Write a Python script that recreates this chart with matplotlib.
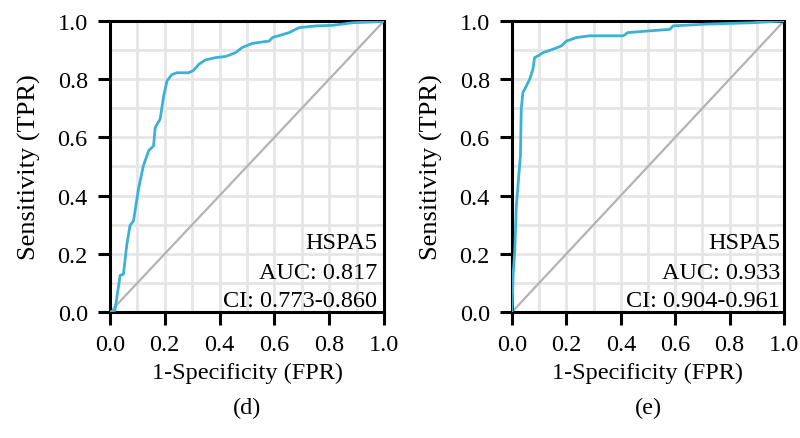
import numpy as np
import matplotlib.pyplot as plt

plt.rcParams['font.family'] = ['Liberation Serif', 'DejaVu Serif']

# ROC curve (d)
fpr_d = [0.0, 0.018, 0.037, 0.049, 0.061, 0.073, 0.086, 0.104, 0.122, 0.141, 0.159,
         0.165, 0.183, 0.196, 0.208, 0.225, 0.244, 0.287, 0.305, 0.324, 0.348, 0.385,
         0.422, 0.458, 0.483, 0.520, 0.581, 0.593, 0.654, 0.690, 0.752, 0.813, 0.886,
         0.996, 1.0]
tpr_d = [0.0, 0.006, 0.126, 0.13, 0.229, 0.297, 0.314, 0.423, 0.503, 0.554, 0.571,
         0.634, 0.663, 0.743, 0.794, 0.815, 0.822, 0.822, 0.83, 0.851, 0.866, 0.874,
         0.878, 0.891, 0.909, 0.923, 0.931, 0.943, 0.96, 0.977, 0.983, 0.985, 0.994,
         0.998, 1.0]

# ROC curve (e)
fpr_e = [0.0, 0.004, 0.010, 0.016, 0.022, 0.031, 0.034, 0.040, 0.053, 0.065, 0.077,
         0.083, 0.096, 0.114, 0.151, 0.181, 0.200, 0.237, 0.286, 0.409, 0.426, 0.506,
         0.580, 0.592, 0.714, 0.886, 0.996, 1.0]
tpr_e = [0.0, 0.126, 0.206, 0.366, 0.434, 0.537, 0.697, 0.754, 0.777, 0.80, 0.834,
         0.874, 0.88, 0.891, 0.903, 0.914, 0.931, 0.943, 0.949, 0.949, 0.96, 0.966,
         0.971, 0.983, 0.989, 0.994, 1.0, 1.0]

gene = 'HSPA5'
auc_vals = ['0.817', '0.933']
ci_vals = ['0.773-0.860', '0.904-0.961']
captions = ['(d)', '(e)']

curve_color = '#3CB1D8'
fs = 17.5

fig = plt.figure(figsize=(8, 4.39), dpi=100)
positions = [[0.1375, 0.287, 0.3425, 0.663], [0.64, 0.287, 0.34, 0.663]]
text_x = [0.974, 0.985]
curves = [(fpr_d, tpr_d), (fpr_e, tpr_e)]

for i in range(2):
    ax = fig.add_axes(positions[i])
    fpr, tpr = curves[i]
    ax.set_xticks(np.arange(0, 1.01, 0.1), minor=True)
    ax.set_yticks(np.arange(0, 1.01, 0.1), minor=True)
    ax.grid(True, which='both', color='#E6E6E6', linewidth=2.0, zorder=0)
    ax.set_axisbelow(True)
    ax.plot([0, 1], [0, 1], color='#B3B3B3', linewidth=1.6, zorder=2)
    ax.plot(fpr, tpr, color=curve_color, linewidth=2.0, zorder=3)
    ax.set_xlim(0, 1)
    ax.set_ylim(0, 1)
    ax.set_xticks(np.arange(0, 1.01, 0.2))
    ax.set_yticks(np.arange(0, 1.01, 0.2))
    ax.set_xticklabels(['%.1f' % v for v in np.arange(0, 1.01, 0.2)])
    ax.set_yticklabels(['%.1f' % v for v in np.arange(0, 1.01, 0.2)])
    ax.tick_params(which='major', length=9, width=2.2, labelsize=fs, pad=7)
    ax.tick_params(which='minor', length=0)
    for s in ax.spines.values():
        s.set_linewidth(2.2)
    ax.set_xlabel('1-Specificity (FPR)', fontsize=fs, labelpad=5)
    ax.set_ylabel('Sensitivity (TPR)', fontsize=19, labelpad=12)
    ax.text(text_x[i], 0.24, gene, transform=ax.transAxes, ha='right', va='center', fontsize=fs)
    ax.text(text_x[i], 0.137, 'AUC: ' + auc_vals[i], transform=ax.transAxes, ha='right', va='center', fontsize=fs)
    ax.text(text_x[i], 0.038, 'CI: ' + ci_vals[i], transform=ax.transAxes, ha='right', va='center', fontsize=fs)
    fig.text(positions[i][0] + positions[i][2] / 2, 1 - 408 / 439, captions[i],
             ha='center', va='center', fontsize=fs)

fig.savefig('out.png', dpi=100)
